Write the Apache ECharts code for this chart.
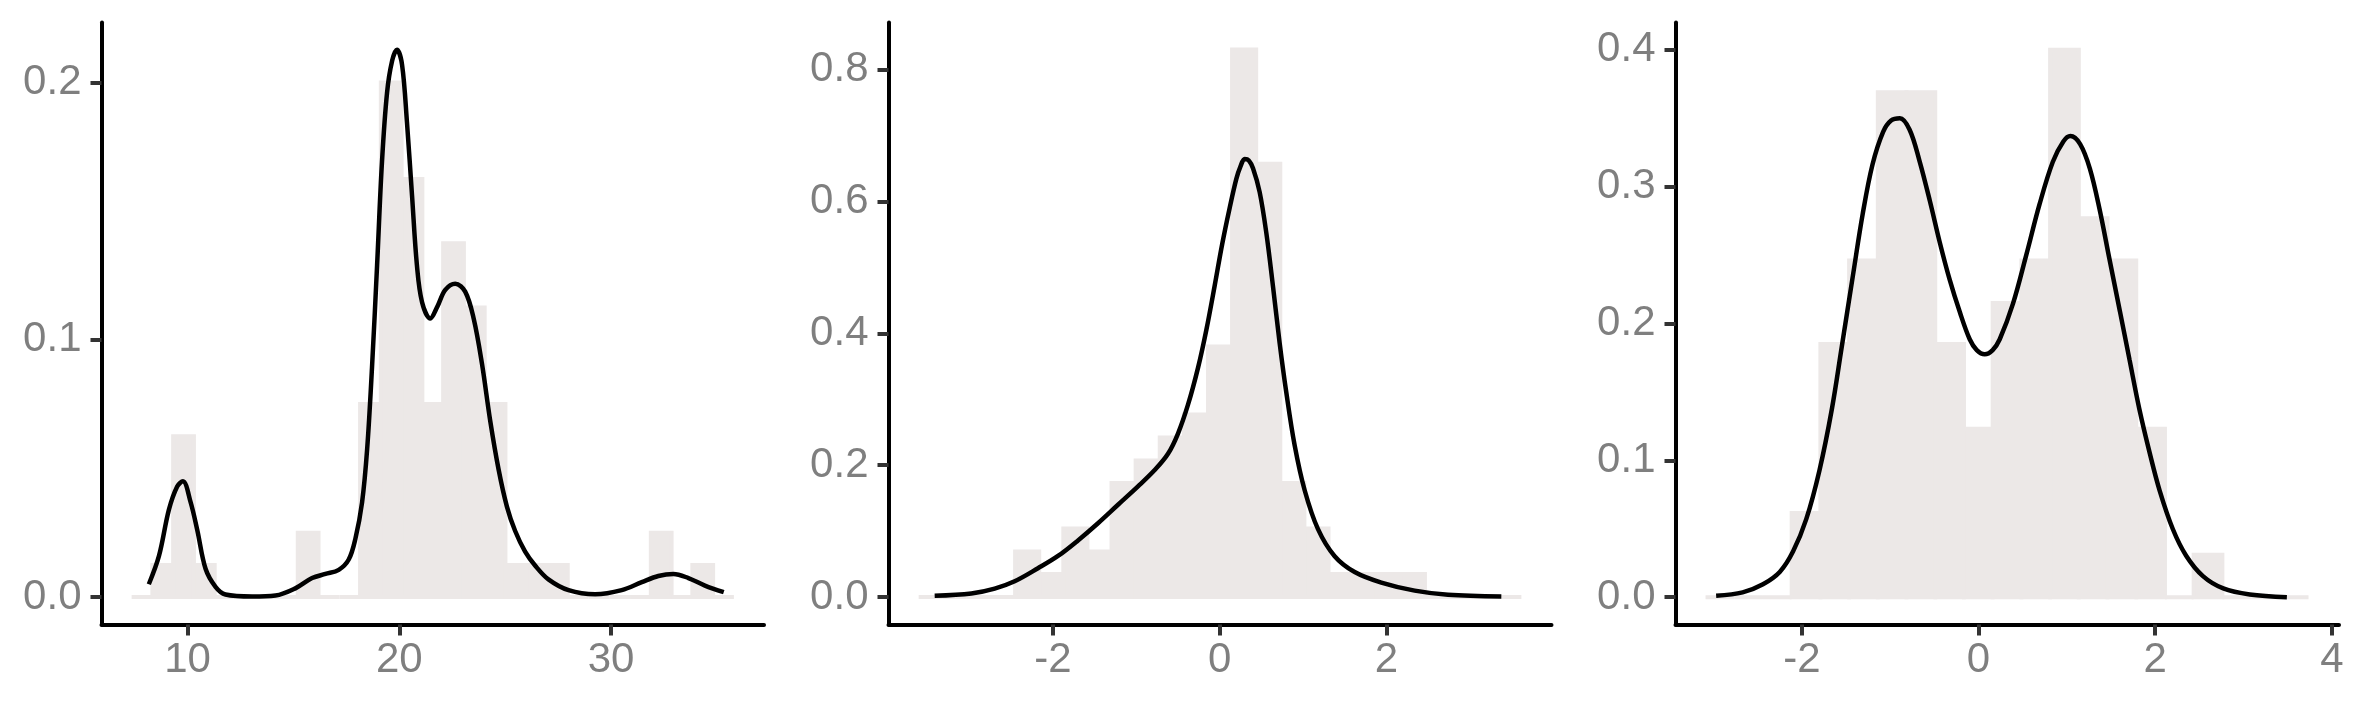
<!DOCTYPE html>
<html>
<head>
<meta charset="utf-8">
<script src="https://cdn.jsdelivr.net/npm/echarts@6/dist/echarts.min.js"></script>
<style>
  html, body { margin: 0; padding: 0; background: #ffffff; }
  #chart { width: 2362px; height: 708px; }
</style>
</head>
<body>
<div id="chart"></div>
<script>
// ---------- Panel 1 ----------
const hist1Start = 7.358;
const hist1Width = 0.9807;
const hist1Density = [0, 0.0125, 0.0625, 0.0125, 0, 0, 0, 0, 0.025, 0, 0, 0.075, 0.2, 0.1625, 0.075,
  0.1375, 0.1125, 0.075, 0.0125, 0.0125, 0.0125, 0, 0, 0, 0, 0.025, 0, 0.0125, 0];
const dens1X = [8.17, 8.65, 9.12, 9.51, 9.78, 10.14, 10.46, 10.85, 11.32, 11.79, 13.05, 14.15, 15.09, 15.88,
  16.51, 17.14, 17.61, 17.92, 18.24, 18.48, 18.71, 18.95, 19.18, 19.42, 19.66, 19.89, 20.13, 20.36, 20.60,
  20.83, 21.07, 21.46, 21.80, 22.17, 22.64, 23.11, 23.51, 23.90, 24.29, 24.69, 25.08, 25.47, 25.94, 26.42,
  27.04, 27.99, 29.25, 30.50, 31.45, 32.23, 32.94, 33.65, 34.43, 35.32];
const dens1Y = [0.005, 0.016, 0.034, 0.043, 0.045, 0.037, 0.026, 0.011, 0.004, 0.001, 0.0002, 0.0006, 0.0034,
  0.0074, 0.009, 0.0106, 0.0146, 0.0225, 0.0368, 0.0575, 0.0893, 0.129, 0.169, 0.196, 0.2084, 0.2127, 0.2068,
  0.1846, 0.156, 0.129, 0.1147, 0.1083, 0.113, 0.1194, 0.1218, 0.1187, 0.1083, 0.0908, 0.0686, 0.0495, 0.0352,
  0.0257, 0.0177, 0.0122, 0.0069, 0.0027, 0.0011, 0.0027, 0.0058, 0.0082, 0.0090, 0.0074, 0.0045, 0.0019];
const xTicks1 = [10, 20, 30];
const yTicks1 = [0, 0.1, 0.2];
const xRange1 = [5.936, 37.22];
const yRange1 = [-0.01064, 0.2233];

// ---------- Panel 2 ----------
const hist2Start = -3.612;
const hist2Width = 0.2893;
const hist2Density = [0, 0, 0, 0, 0.069, 0.035, 0.104, 0.069, 0.173, 0.207, 0.242, 0.277, 0.380, 0.830, 0.657,
  0.173, 0.104, 0.035, 0.035, 0.035, 0.035, 0, 0, 0, 0];
const dens2X = [-3.42, -2.98, -2.70, -2.46, -2.18, -1.94, -1.70, -1.46, -1.22, -0.98, -0.78, -0.62, -0.50,
  -0.38, -0.26, -0.16, -0.06, 0.03, 0.12, 0.20, 0.25, 0.30, 0.35, 0.40, 0.48, 0.56, 0.64, 0.72, 0.80, 0.90,
  1.02, 1.18, 1.38, 1.62, 1.94, 2.34, 2.74, 3.38];
const dens2Y = [0.002, 0.0055, 0.0129, 0.024, 0.0438, 0.0624, 0.086, 0.112, 0.140, 0.1678, 0.1926, 0.2173,
  0.248, 0.2917, 0.3475, 0.405, 0.472, 0.535, 0.590, 0.634, 0.653, 0.664, 0.662, 0.650, 0.614, 0.552, 0.471,
  0.385, 0.310, 0.230, 0.162, 0.103, 0.062, 0.038, 0.022, 0.0098, 0.0036, 0.001];
const xTicks2 = [-2, 0, 2];
const yTicks2 = [0, 0.2, 0.4, 0.6, 0.8];
const xRange2 = [-3.974, 3.982];
const yRange2 = [-0.0415, 0.8711];

// ---------- Panel 3 ----------
const hist3Start = -3.09;
const hist3Width = 0.325;
const hist3Density = [0, 0, 0, 0.0615, 0.185, 0.246, 0.369, 0.369, 0.185, 0.123, 0.215, 0.246, 0.400, 0.277,
  0.246, 0.123, 0, 0.031, 0, 0, 0];
const dens3X = [-2.97, -2.67, -2.44, -2.25, -2.10, -1.95, -1.80, -1.66, -1.55, -1.42, -1.31, -1.20, -1.08,
  -0.99, -0.89, -0.78, -0.67, -0.55, -0.44, -0.33, -0.21, -0.10, -0.02, 0.07, 0.16, 0.24, 0.39, 0.54, 0.69,
  0.84, 0.96, 1.04, 1.15, 1.26, 1.37, 1.48, 1.60, 1.71, 1.82, 1.94, 2.05, 2.20, 2.35, 2.54, 2.77, 3.07, 3.49];
const dens3Y = [0.001, 0.0035, 0.0094, 0.0184, 0.0333, 0.057, 0.0928, 0.1375, 0.1822, 0.2358, 0.2805, 0.3162,
  0.340, 0.3483, 0.350, 0.3416, 0.3193, 0.2894, 0.2596, 0.2328, 0.208, 0.1885, 0.1806, 0.1775, 0.1806, 0.1885,
  0.2145, 0.250, 0.287, 0.318, 0.333, 0.337, 0.3311, 0.3132, 0.2835, 0.2477, 0.209, 0.1732, 0.1375, 0.1047,
  0.0779, 0.0496, 0.0303, 0.0154, 0.0064, 0.002, 0.000];
const xTicks3 = [-2, 0, 2, 4];
const yTicks3 = [0, 0.1, 0.2, 0.3, 0.4];
const xRange3 = [-3.43, 4.08];
const yRange3 = [-0.02, 0.42];

// ---------- styles ----------
const BAR_COLOR = '#ece8e7';
const LABEL_COLOR = '#7f7f7f';
const FONT = "'Liberation Sans', Arial, Helvetica, sans-serif";
const FONT_SIZE = 42;

const panels = [
  { start: hist1Start, width: hist1Width, dens: hist1Density, lx: dens1X, ly: dens1Y, xt: xTicks1, yt: yTicks1, xr: xRange1, yr: yRange1, left: 101.5, right: 764 },
  { start: hist2Start, width: hist2Width, dens: hist2Density, lx: dens2X, ly: dens2Y, xt: xTicks2, yt: yTicks2, xr: xRange2, yr: yRange2, left: 888.5, right: 1551.5 },
  { start: hist3Start, width: hist3Width, dens: hist3Density, lx: dens3X, ly: dens3Y, xt: xTicks3, yt: yTicks3, xr: xRange3, yr: yRange3, left: 1675.5, right: 2339 }
];

const grids = [], xAxes = [], yAxes = [], series = [];
panels.forEach(function (p, i) {
  grids.push({ left: p.left, width: p.right - p.left, top: 22.5, height: 602, containLabel: false, outerBoundsMode: 'none' });
  xAxes.push({
    type: 'value', gridIndex: i, min: p.xr[0], max: p.xr[1],
    axisLine: { show: true, onZero: false, lineStyle: { color: '#000000', width: 4 } },
    axisTick: { show: true, customValues: p.xt, length: 11, lineStyle: { color: '#333333', width: 4 } },
    axisLabel: { show: true, customValues: p.xt, margin: 15, color: LABEL_COLOR, fontSize: FONT_SIZE, fontFamily: FONT,
      formatter: function (v) { return String(v); } },
    splitLine: { show: false }
  });
  yAxes.push({
    type: 'value', gridIndex: i, min: p.yr[0], max: p.yr[1],
    axisLine: { show: true, onZero: false, lineStyle: { color: '#000000', width: 4 } },
    axisTick: { show: true, customValues: p.yt, length: 11, lineStyle: { color: '#333333', width: 4 } },
    axisLabel: { show: true, customValues: p.yt, margin: 20, color: LABEL_COLOR, fontSize: FONT_SIZE, fontFamily: FONT,
      formatter: function (v) { return v.toFixed(1); } },
    splitLine: { show: false }
  });
  const barData = p.dens.map(function (h, k) {
    return [p.start + k * p.width, p.start + (k + 1) * p.width, h];
  });
  series.push({
    type: 'custom', xAxisIndex: i, yAxisIndex: i, z: 1, silent: true,
    data: barData,
    encode: { x: [0, 1], y: 2 },
    renderItem: function (params, api) {
      const p0 = api.coord([api.value(0), 0]);
      const p1 = api.coord([api.value(1), api.value(2)]);
      return {
        type: 'rect',
        shape: { x: p0[0], y: p1[1], width: p1[0] - p0[0], height: p0[1] - p1[1] },
        style: { fill: BAR_COLOR, stroke: BAR_COLOR, lineWidth: 4 }
      };
    }
  });
  series.push({
    type: 'line', xAxisIndex: i, yAxisIndex: i, z: 3, silent: true,
    data: p.lx.map(function (x, k) { return [x, p.ly[k]]; }),
    showSymbol: false, symbol: 'none', smooth: 0.35,
    lineStyle: { color: '#000000', width: 4.5, cap: 'butt' }
  });
});

const chart = echarts.init(document.getElementById('chart'), null, { renderer: 'canvas', width: 2362, height: 708 });
chart.setOption({
  animation: false,
  backgroundColor: '#ffffff',
  grid: grids,
  xAxis: xAxes,
  yAxis: yAxes,
  series: series
});
</script>
</body>
</html>
